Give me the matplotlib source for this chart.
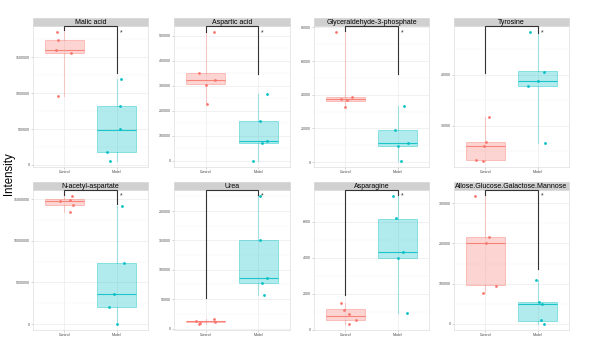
import numpy as np
import matplotlib
matplotlib.use("Agg")
import matplotlib.pyplot as plt
from matplotlib.patches import Rectangle
from matplotlib.ticker import MultipleLocator, FuncFormatter

plt.rcParams['font.family'] = ['Liberation Sans', 'DejaVu Sans']

panels = ["Malic acid", "Aspartic acid", "Glyceraldehyde-3-phosphate", "Tyrosine",
          "N-acetyl-aspartate", "Urea", "Asparagine", "Allose.Glucose.Galactose.Mannose"]
groups = ["Control", "Model"]

# values, five samples per group
control_values = [
    [1843000, 1741000, 1597000, 1551000, 954000],
    [513500, 352000, 323000, 303000, 227800],
    [77060, 38600, 37400, 36800, 32700],
    [31620, 26750, 25900, 23240, 23100],
    [15320000, 14770000, 14930000, 14340000, 13390000],
    [15500, 10500, 8300, 12200, 10000],
    [1473, 1091, 855, 527, 346],
    [317000, 215000, 200000, 95100, 76500],
]
model_values = [
    [1199000, 825000, 500000, 176000, 61000],
    [267500, 157500, 78200, 70200, 0],
    [33100, 19000, 11500, 9600, 940],
    [48320, 40580, 38700, 37800, 26620],
    [14220000, 7360000, 3620000, 2050000, 70000],
    [225000, 150000, 86700, 77800, 57200],
    [7400, 6180, 4290, 4000, 945],
    [109100, 54800, 49000, 8900, 700],
]
control_jitter = [
    [-0.15, -0.12, -0.16, 0.13, -0.12],
    [0.15, -0.13, 0.17, 0.01, 0.03],
    [-0.18, 0.12, -0.08, 0.04, 0.0],
    [0.07, 0.01, -0.03, -0.18, -0.04],
    [0.15, -0.09, 0.10, 0.16, 0.10],
    [0.16, 0.17, -0.12, -0.18, -0.10],
    [-0.08, -0.02, 0.07, 0.20, 0.06],
    [-0.19, 0.06, 0.01, 0.20, -0.04],
]
model_jitter = [
    [0.08, 0.06, 0.06, -0.19, -0.13],
    [0.16, 0.03, 0.17, 0.07, -0.10],
    [0.12, -0.05, 0.19, 0.01, 0.07],
    [-0.14, 0.13, 0.01, -0.19, 0.15],
    [0.11, 0.14, -0.05, -0.15, 0.01],
    [0.03, 0.04, 0.17, 0.07, 0.11],
    [-0.08, -0.04, 0.11, 0.01, 0.18],
    [-0.03, 0.03, 0.09, 0.07, 0.13],
]
# box stats: q1, median, q3, lower whisker, upper whisker
control_box = [
    (1561000, 1597000, 1741000, 954000, 1900000),
    (305600, 323000, 352000, 227800, 513500),
    (36200, 37600, 38800, 32700, 80000),
    (23300, 25900, 26820, 23100, 31620),
    (14340000, 14770000, 15040000, 13390000, 15800000),
    (10300, 12000, 13000, 8300, 15500),
    (527, 782, 1145, 346, 1473),
    (97500, 201600, 215000, 76500, 328000),
]
model_box = [
    (182000, 492000, 825000, 61000, 1199000),
    (69000, 77000, 157500, 0, 267500),
    (9400, 11200, 19000, 940, 33100),
    (37800, 38700, 40720, 26620, 49300),
    (2050000, 3620000, 7360000, 70000, 14220000),
    (77200, 86700, 150000, 57200, 231000),
    (4000, 4290, 6150, 945, 7600),
    (7300, 49000, 54000, 700, 109100),
]
# lower ends of the significance bracket legs
bracket_control_end = [1870000, 516000, 78000, 40270, 15470000, 51700, 1960, 320000]
bracket_model_end = [1283000, 348000, 52600, 48300, 14400000, 227200, 7500, 137000]
tick_steps = [500000, 100000, 20000, 10000, 5000000, 50000, 2000, 100000]

ctrl_col = "#F8766D"
mod_col = "#00BFC4"

fig = plt.figure(figsize=(6, 3.57), dpi=100)
W, H = 600, 357
cols = [(33, 148), (174, 290), (314, 429), (454, 569)]
rows = [(26, 167), (190, 330)]

for i, name in enumerate(panels):
    r, c = divmod(i, 4)
    x0, x1 = cols[c]
    yt, yb = rows[r]
    ax = fig.add_axes([x0 / W, 1 - yb / H, (x1 - x0) / W, (yb - yt) / H])

    allv = control_values[i] + model_values[i]
    lo, hi = min(allv), max(allv)
    pad = 0.05 * (hi - lo)
    top = hi + pad
    ax.set_ylim(lo - pad, top)
    ax.set_xlim(0.4, 2.6)

    for pos, box, col in [(1, control_box[i], ctrl_col), (2, model_box[i], mod_col)]:
        q1, med, q3, wl, wh = box
        st = [dict(q1=q1, med=med, q3=q3, whislo=wl, whishi=wh, fliers=[])]
        ax.bxp(st, positions=[pos], widths=0.75, patch_artist=True,
               showfliers=False, showcaps=False,
               boxprops=dict(facecolor=matplotlib.colors.to_rgba(col, 0.3),
                             edgecolor=matplotlib.colors.to_rgba(col, 0.45), lw=0.6),
               whiskerprops=dict(color=matplotlib.colors.to_rgba(col, 0.35), lw=0.8),
               medianprops=dict(color=matplotlib.colors.to_rgba(col, 0.85), lw=0.8),
               zorder=2)

    ax.scatter(1 + np.array(control_jitter[i]), control_values[i], s=4,
               color=ctrl_col, zorder=3, lw=0)
    ax.scatter(2 + np.array(model_jitter[i]), model_values[i], s=4,
               color=mod_col, zorder=3, lw=0)

    # significance bracket
    ax.plot([1, 1, 2, 2], [bracket_control_end[i], top, top, bracket_model_end[i]],
            color="#333333", lw=0.8, clip_on=False, zorder=4, solid_joinstyle='miter')
    ax.text(2.08, hi, "*", fontsize=5, color="#333333", ha="center", va="center",
            zorder=5)

    step = tick_steps[i]
    ax.yaxis.set_major_locator(MultipleLocator(step))
    ax.yaxis.set_minor_locator(MultipleLocator(step / 2))
    ax.yaxis.set_major_formatter(FuncFormatter(lambda v, p: f"{v:.0f}"))
    ax.set_xticks([1, 2])
    ax.set_xticklabels(groups)
    ax.grid(True, which="major", color="#EBEBEB", lw=0.5)
    ax.grid(True, which="minor", axis="y", color="#F4F4F4", lw=0.35)
    ax.set_axisbelow(True)
    ax.tick_params(axis="both", which="major", labelsize=2.6, colors="#B3B3B3",
                   labelcolor="#4D4D4D", length=1.2, width=0.4, pad=1)
    ax.tick_params(axis="both", which="minor", length=0)
    for s in ax.spines.values():
        s.set_color("#DEDEDE")
        s.set_linewidth(0.5)

    sh = 8 / (yb - yt)
    ax.add_patch(Rectangle((0, 1), 1, sh, transform=ax.transAxes, clip_on=False,
                           facecolor="#D0D0D0", edgecolor="#D0D0D0", lw=0.4))
    ax.text(0.5, 1 + sh / 2, name, transform=ax.transAxes, ha="center",
            va="center", fontsize=5, color="black")

fig.text(8.5 / W, 1 - 173.5 / H, "Intensity", rotation=90, fontsize=8.3,
         ha="center", va="center")

fig.savefig("out.png", dpi=100)
